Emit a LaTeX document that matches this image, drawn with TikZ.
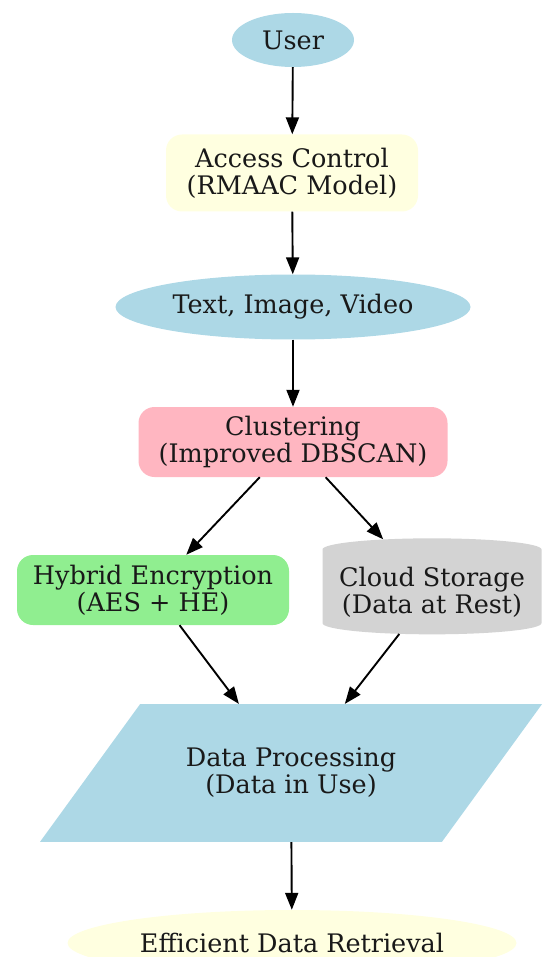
\documentclass[tikz,border=0pt]{standalone}
\usepackage{fontspec}
\setmainfont{DejaVu Serif}
\usetikzlibrary{shapes.geometric,arrows.meta}
\definecolor{lblue}{HTML}{ADD8E6}
\definecolor{lyellow}{HTML}{FFFFE0}
\definecolor{lpink}{HTML}{FFB6C1}
\definecolor{lgreen}{HTML}{90EE90}
\definecolor{lgray}{HTML}{D3D3D3}
\begin{document}
\begin{tikzpicture}[x=1pt,y=-1pt,
    every node/.style={font=\fontsize{25.5}{27}\selectfont, align=center, inner sep=0pt, text=black!90},
    ell/.style={ellipse, fill=#1},
    box/.style={rectangle, rounded corners=16pt, fill=#1},
    arr/.style={-{Triangle[length=17pt,width=13pt]}, line width=1.9pt}]
  \useasboundingbox (0,0) rectangle (542,957);
  % 利用者
  \node[ell=lblue, minimum width=122pt, minimum height=54pt] (user) at (293,40) {User};
  % アクセス制御
  \node[box=lyellow, minimum width=252pt, minimum height=77pt] (acc) at (292,173) {Access Control\\(RMAAC Model)};
  % データの種類
  \node[ell=lblue, minimum width=355pt, minimum height=65pt] (data) at (293,307) {Text, Image, Video};
  % クラスタリング
  \node[box=lpink, minimum width=309pt, minimum height=70pt] (clus) at (293,442) {Clustering\\(Improved DBSCAN)};
  % 暗号化
  \node[box=lgreen, minimum width=272pt, minimum height=70pt] (enc) at (153,590) {Hybrid Encryption\\(AES + HE)};
  % クラウド保存
  \node[cylinder, shape border rotate=90, aspect=0.12, fill=lgray, minimum height=96pt, minimum width=219pt] (cloud) at (432,592) {Cloud Storage\\(Data at Rest)};
  % データ処理
  \node[trapezium, trapezium left angle=54, trapezium right angle=126, trapezium stretches body=true, fill=lblue, inner ysep=44pt, minimum width=502pt] (proc) at (291,773) {Data Processing\\(Data in Use)};
  % 検索
  \node[ell=lyellow, minimum width=449pt, minimum height=66pt] (ret) at (292,943) {Efficient Data Retrieval};
  % 矢印
  \draw[arr] (user) -- (acc);
  \draw[arr] (acc) -- (data);
  \draw[arr] (data) -- (clus);
  \draw[arr] (clus) -- (enc);
  \draw[arr] (clus) -- (cloud);
  \draw[arr] (enc) -- (proc);
  \draw[arr] (cloud) -- (proc);
  \draw[arr] (proc) -- (ret);
\end{tikzpicture}
\end{document}
